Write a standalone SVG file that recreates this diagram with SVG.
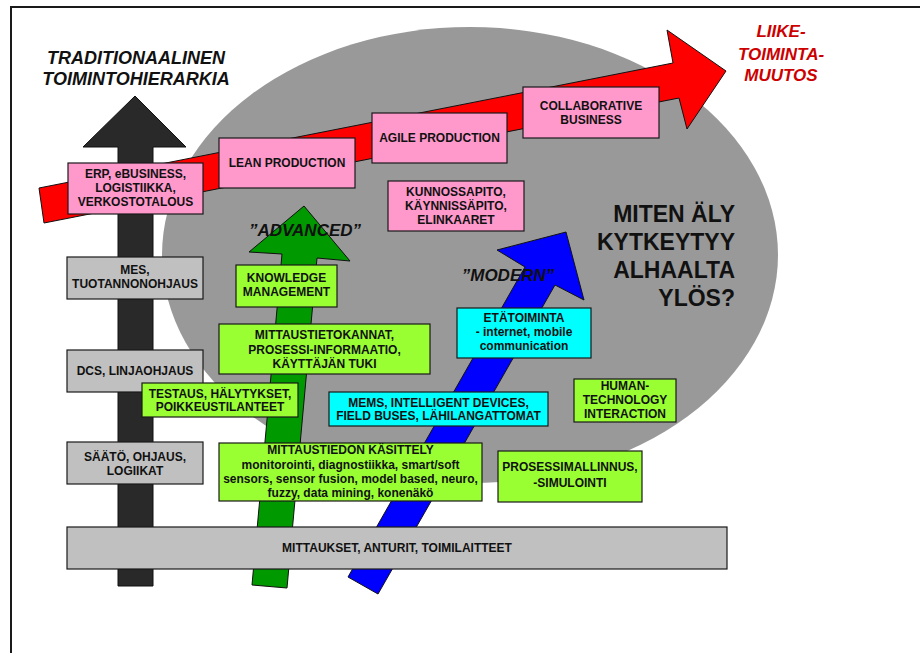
<svg xmlns="http://www.w3.org/2000/svg" width="920" height="653" viewBox="0 0 920 653">
  <style>
    .box { stroke: #1a1a1a; stroke-width: 1.2; }
    .pink { fill: #ff99cc; }
    .grey { fill: #c0c0c0; }
    .lime { fill: #99ff33; }
    .cyan { fill: #00ffff; }
    .arrow { stroke: #111; stroke-width: 1; }
    text { font-family: "Liberation Sans", Arial, sans-serif; font-weight: bold; fill: #111; }
    .t { font-size: 12px; text-anchor: middle; }
    .head { font-size: 18px; font-style: italic; text-anchor: middle; }
    .red { font-size: 17px; font-style: italic; text-anchor: middle; fill: #cc0000; }
    .big { font-size: 23px; text-anchor: end; }
    .tag { font-size: 17px; font-style: italic; text-anchor: middle; }
  </style>

  <rect x="0" y="0" width="920" height="653" fill="#ffffff"/>
  <!-- page frame -->
  <path d="M10 7 H920 M11 7 V653" fill="none" stroke="#1a1a1a" stroke-width="2"/>

  <!-- background oval -->
  <ellipse cx="470" cy="255" rx="308" ry="228" fill="#999999"/>

  <g id="connectors">
    <!-- business change arrow -->
    <polygon class="arrow" fill="#ff0000" points="39,188 673,63 667,30 726,71 687,129 679,98 44,223"/>
    <!-- traditional hierarchy arrow -->
    <polygon class="arrow" fill="#292929" points="118,586 118,147 83,147 135,96 186,147 153,147 153,586"/>
    <!-- advanced arrow -->
    <polygon class="arrow" fill="#009900" points="252,585 282,254 249,252 304,206 350,261 317,258 287,588"/>
    <!-- modern arrow -->
    <polygon class="arrow" fill="#0000ff" points="348,577 525,267 497,250 566,232 584,300 555,285 378,594"/>
  </g>

  <g id="title-traditional">
    <text class="head" x="136" y="64">TRADITIONAALINEN</text>
    <text class="head" x="136" y="85">TOIMINTOHIERARKIA</text>
  </g>
  <g id="title-change">
    <text class="red" x="781" y="37">LIIKE-</text>
    <text class="red" x="781" y="60">TOIMINTA-</text>
    <text class="red" x="781" y="81">MUUTOS</text>
  </g>
  <g id="question">
    <text class="big" x="735" y="222">MITEN ÄLY</text>
    <text class="big" x="735" y="250">KYTKEYTYY</text>
    <text class="big" x="735" y="278">ALHAALTA</text>
    <text class="big" x="735" y="306">YLÖS?</text>
  </g>

  <!-- business level -->
  <g id="erp">
    <rect class="box pink" x="68" y="163" width="135" height="51"/>
    <text class="t" x="135.5" y="178">ERP, eBUSINESS,</text>
    <text class="t" x="135.5" y="192">LOGISTIIKKA,</text>
    <text class="t" x="135.5" y="206">VERKOSTOTALOUS</text>
  </g>
  <g id="lean">
    <rect class="box pink" x="219" y="138" width="136" height="50"/>
    <text class="t" x="287" y="167">LEAN PRODUCTION</text>
  </g>
  <g id="agile">
    <rect class="box pink" x="372" y="113" width="135" height="50"/>
    <text class="t" x="439.5" y="142">AGILE PRODUCTION</text>
  </g>
  <g id="collaborative">
    <rect class="box pink" x="523" y="87" width="136" height="51"/>
    <text class="t" x="591" y="110">COLLABORATIVE</text>
    <text class="t" x="591" y="124">BUSINESS</text>
  </g>
  <g id="kunnossapito">
    <rect class="box pink" x="388" y="181" width="136" height="50"/>
    <text class="t" x="456" y="196">KUNNOSSAPITO,</text>
    <text class="t" x="456" y="210">KÄYNNISSÄPITO,</text>
    <text class="t" x="456" y="224">ELINKAARET</text>
  </g>

  <!-- traditional hierarchy levels -->
  <g id="mes">
    <rect class="box grey" x="67" y="257" width="136" height="42"/>
    <text class="t" x="135" y="274">MES,</text>
    <text class="t" x="135" y="288">TUOTANNONOHJAUS</text>
  </g>
  <g id="dcs">
    <rect class="box grey" x="67" y="350" width="136" height="42"/>
    <text class="t" x="135" y="375">DCS, LINJAOHJAUS</text>
  </g>
  <g id="saato">
    <rect class="box grey" x="67" y="442" width="136" height="42"/>
    <text class="t" x="135" y="461">SÄÄTÖ, OHJAUS,</text>
    <text class="t" x="135" y="475">LOGIIKAT</text>
  </g>
  <g id="mittaukset">
    <rect class="box grey" x="67" y="527" width="660" height="42"/>
    <text class="t" x="397" y="552">MITTAUKSET, ANTURIT, TOIMILAITTEET</text>
  </g>

  <!-- advanced track -->
  <g id="knowledge">
    <rect class="box lime" x="236" y="265" width="101" height="42"/>
    <text class="t" x="286.5" y="282">KNOWLEDGE</text>
    <text class="t" x="286.5" y="296">MANAGEMENT</text>
  </g>
  <g id="tietokannat">
    <rect class="box lime" x="219" y="324" width="211" height="50"/>
    <text class="t" x="324.5" y="339">MITTAUSTIETOKANNAT,</text>
    <text class="t" x="324.5" y="353.5">PROSESSI-INFORMAATIO,</text>
    <text class="t" x="324.5" y="368">KÄYTTÄJÄN TUKI</text>
  </g>
  <g id="testaus">
    <rect class="box lime" x="142" y="383" width="156" height="34"/>
    <text class="t" x="220" y="398">TESTAUS, HÄLYTYKSET,</text>
    <text class="t" x="220" y="411">POIKKEUSTILANTEET</text>
  </g>
  <g id="kasittely">
    <rect class="box lime" x="219" y="443" width="263" height="58"/>
    <text class="t" x="350.5" y="454">MITTAUSTIEDON KÄSITTELY</text>
    <text class="t" x="350.5" y="468.5">monitorointi, diagnostiikka, smart/soft</text>
    <text class="t" x="350.5" y="482.5">sensors, sensor fusion, model based, neuro,</text>
    <text class="t" x="350.5" y="496.5">fuzzy, data mining, konenäkö</text>
  </g>
  <g id="human">
    <rect class="box lime" x="574" y="379" width="102" height="43"/>
    <text class="t" x="625" y="390">HUMAN-</text>
    <text class="t" x="625" y="404">TECHNOLOGY</text>
    <text class="t" x="625" y="418">INTERACTION</text>
  </g>
  <g id="prosessimallinnus">
    <rect class="box lime" x="498" y="451" width="144" height="51"/>
    <text class="t" x="570" y="471">PROSESSIMALLINNUS,</text>
    <text class="t" x="570" y="487">-SIMULOINTI</text>
  </g>

  <!-- modern track -->
  <g id="etatoiminta">
    <rect class="box cyan" x="457" y="308" width="134" height="50"/>
    <text class="t" x="524" y="322">ETÄTOIMINTA</text>
    <text class="t" x="524" y="336">- internet, mobile</text>
    <text class="t" x="524" y="350">communication</text>
  </g>
  <g id="mems">
    <rect class="box cyan" x="329" y="392" width="219" height="34"/>
    <text class="t" x="438.5" y="407">MEMS, INTELLIGENT DEVICES,</text>
    <text class="t" x="438.5" y="420">FIELD BUSES, LÄHILANGATTOMAT</text>
  </g>

  <g id="labels">
    <text class="tag" x="305" y="236">”ADVANCED”</text>
    <text class="tag" x="508" y="281">”MODERN”</text>
  </g>
</svg>
